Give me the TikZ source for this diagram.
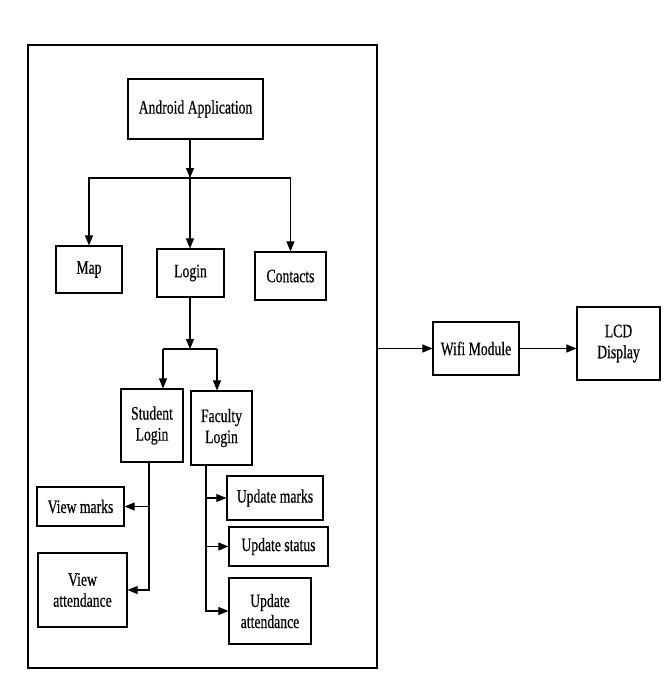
\documentclass[tikz,border=0pt]{standalone}
\usepackage{fontspec}
\setmainfont[FakeStretch=0.72,FakeBold=0.5]{Liberation Serif}
\usetikzlibrary{arrows.meta}
\tikzset{
  box/.style={draw, line width=1.2pt, inner sep=1pt, align=center, font=\fontsize{19}{21}\selectfont},
  arr/.style={line width=1.1pt, -{Triangle[length=10pt,width=8pt]}},
  ln/.style={line width=1.1pt}
}
\begin{document}
\begin{tikzpicture}[x=1pt,y=-1pt]
\useasboundingbox (0,0) rectangle (668,673);
\node[draw, line width=1.3pt, minimum width=349pt, minimum height=623pt, inner sep=0] (outer) at (202.5,356.5) {};
\node[box, minimum width=135pt, minimum height=60pt] (android) at (195.5,109) {Android Application};
\node[box, minimum width=66pt, minimum height=47pt] (map) at (89,269.5) {Map};
\node[box, minimum width=67pt, minimum height=48pt] (login) at (190.5,273) {Login};
\node[box, minimum width=71pt, minimum height=48pt] (contacts) at (290.5,276) {Contacts};
\node[box, minimum width=62pt, minimum height=73pt] (student) at (152,425.5) {Student\\Login};
\node[box, minimum width=61pt, minimum height=74pt] (faculty) at (221.5,428) {Faculty\\Login};
\node[box, minimum width=87pt, minimum height=39pt] (vmarks) at (80.5,506.5) {View marks};
\node[box, minimum width=89pt, minimum height=74pt] (vatt) at (82.5,590) {View\\attendance};
\node[box, minimum width=96pt, minimum height=44pt] (umarks) at (275,498) {Update marks};
\node[box, minimum width=99pt, minimum height=39pt] (ustatus) at (278.5,546.5) {Update status};
\node[box, minimum width=82pt, minimum height=66pt] (uatt) at (270,611) {Update\\attendance};
\node[box, minimum width=86pt, minimum height=53pt] (wifi) at (476,348.5) {Wifi Module};
\node[box, minimum width=83pt, minimum height=73pt] (lcd) at (618.5,343.5) {LCD\\Display};
\coordinate (j1) at (190,178);
\coordinate (j2) at (190,349);
\coordinate (sL) at (163,349);
\coordinate (fL) at (217,349);
\coordinate (sx) at (149,0);
\coordinate (fx) at (206,0);
\draw[arr] (android.south -| j1) -- (j1);
\draw[arr] (j1) -| (map.north);
\draw[arr] (j1) -| (contacts.north);
\draw[arr] (j1) -- (login.north -| j1);
\draw[arr] (login.south -| j2) -- (j2);
\draw[ln] (sL) -- (fL);
\draw[arr] (sL) -- (sL |- student.north);
\draw[arr] (fL) -- (fL |- faculty.north);
\draw[arr] (student.south -| sx) |- (vatt.east);
\draw[arr] (sx |- vmarks.east) -- (vmarks.east);
\draw[arr] (faculty.south -| fx) |- (uatt.west);
\draw[arr] (fx |- umarks.west) -- (umarks.west);
\draw[arr] (fx |- ustatus.west) -- (ustatus.west);
\draw[arr] (outer.east |- wifi.west) -- (wifi.west);
\draw[arr] (wifi.east) -- (lcd.west |- wifi.east);
\end{tikzpicture}
\end{document}
